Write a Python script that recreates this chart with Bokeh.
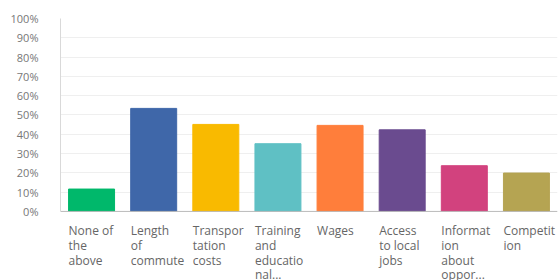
from bokeh.plotting import figure
from bokeh.models import FixedTicker, PrintfTickFormatter, Range1d, Span, ColumnDataSource
from bokeh.transform import dodge
from bokeh.core.properties import value
from bokeh.embed import file_html
from bokeh.resources import INLINE

categories = ["None of the above", "Length of commute", "Transportation costs",
              "Training and educational...", "Wages", "Access to local jobs",
              "Information about oppor...", "Competition"]
tick_labels = ["None of\nthe\nabove", "Length\nof\ncommute", "Transpor\ntation\ncosts",
               "Training\nand\neducatio\nnal...", "Wages", "Access\nto local\njobs",
               "Informat\nion\nabout\noppor...", "Competit\nion"]
values = [11.6, 53.4, 45.1, 35.1, 44.6, 42.3, 23.7, 19.9]
colors = ["#00B86B", "#3F67A9", "#F9BA00", "#5FC0C4", "#FF7E3B", "#6A4B8F", "#D2427E", "#B5A452"]
y_ticks = [0, 10, 20, 30, 40, 50, 60, 70, 80, 90, 100]

src = ColumnDataSource(dict(cat=categories, val=values, color=colors, lab=tick_labels,
                            base=[0] * len(categories)))

p = figure(x_range=categories, y_range=Range1d(-35.8, 100), width=560, height=280,
           output_backend="svg", toolbar_location=None,
           min_border_left=60, min_border_right=3, min_border_top=18, min_border_bottom=0)
p.outline_line_color = None
p.vbar(x="cat", top="val", width=0.74, color="color", source=src)

p.xaxis.visible = False
p.add_layout(Span(location=0, dimension="width", line_color="#BBBBBB", line_width=1))

p.yaxis.ticker = FixedTicker(ticks=y_ticks)
p.yaxis.bounds = (0, 100)
p.yaxis.formatter = PrintfTickFormatter(format="%d%%")
p.yaxis.major_tick_line_color = None
p.yaxis.minor_tick_line_color = None
p.yaxis.axis_line_color = "#D9D9D9"
p.yaxis.major_label_text_font = "Open Sans"
p.yaxis.major_label_text_font_size = "11px"
p.yaxis.major_label_text_color = "#777777"
p.yaxis.major_label_standoff = 16

p.xgrid.grid_line_color = None
p.ygrid.grid_line_color = "#EFEFEF"

p.text(x=dodge("cat", -0.37, range=p.x_range), y="base", text="lab", source=src,
       y_offset=11, text_font=value("Open Sans"), text_font_size="12px",
       text_color="#666666", text_align="left", text_baseline="top",
       text_line_height=0.86)

open("out.html", "w").write(file_html(p, INLINE))
